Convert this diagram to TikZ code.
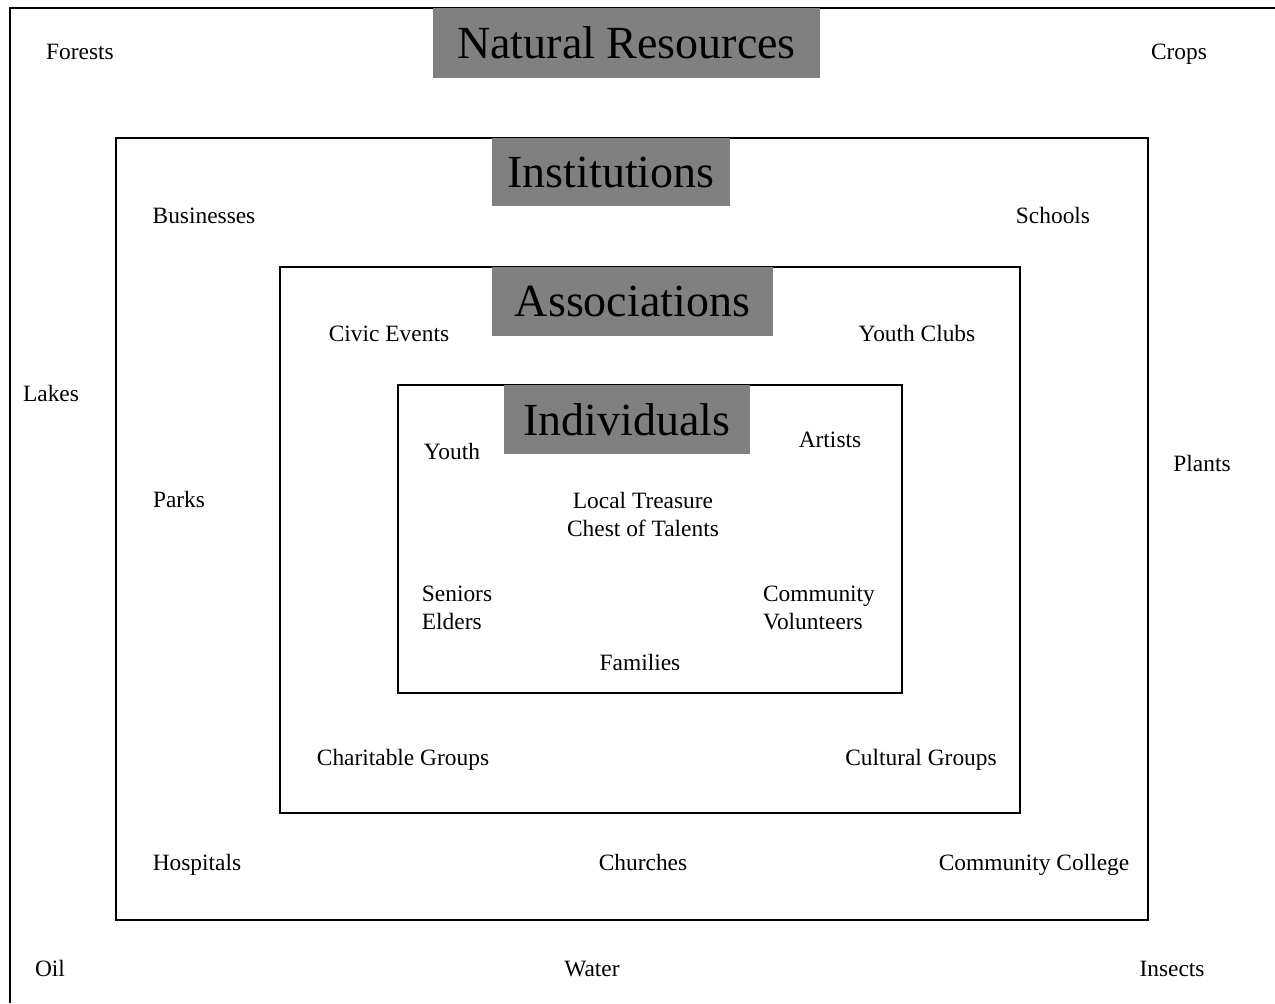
\documentclass[tikz,border=0pt]{standalone}
\usepackage{fontspec}
\setmainfont{Liberation Serif}
\definecolor{labgray}{HTML}{808080}
\begin{document}
\begin{tikzpicture}[x=0.5pt,y=-0.5pt,
  frame/.style={draw=black,line width=1pt},
  biglab/.style={fill=labgray,inner sep=0pt,font=\fontsize{23}{27}\selectfont},
  item/.style={inner sep=0pt,anchor=base,font=\fontsize{11.7}{14}\selectfont},
  itemL/.style={inner sep=0pt,align=left,font=\fontsize{11.7}{14}\selectfont},
  itemC/.style={inner sep=0pt,align=center,font=\fontsize{11.7}{14}\selectfont}]
\useasboundingbox (0,0) rectangle (1275,1003);
% outer frame (top and left edges only visible)
\draw[frame] (1275,8) -- (10,8) -- (10,1003);
% nested boxes
\draw[frame] (116,138) rectangle (1148,920);
\draw[frame] (280,267) rectangle (1020,813);
\draw[frame] (398,385) rectangle (902,693);
% gray title labels
\node[biglab,minimum width=387*0.5pt,minimum height=70*0.5pt] (nr) at (626.5,43) {Natural Resources};
\node[biglab,minimum width=238*0.5pt,minimum height=68*0.5pt] (inst) at (611,172) {Institutions};
\node[biglab,minimum width=281*0.5pt,minimum height=69*0.5pt] (assoc) at (632.5,301.5) {Associations};
\node[biglab,minimum width=246*0.5pt,minimum height=69*0.5pt] (indiv) at (627,419.5) {Individuals};
% natural resources
\node[item] (forests) at (80,59) {Forests};
\node[item] (crops) at (1179,59) {Crops};
\node[item] (lakes) at (51,401) {Lakes};
\node[item] (plants) at (1202,471) {Plants};
\node[item] (oil) at (50,976) {Oil};
\node[item] (water) at (592,976) {Water};
\node[item] (insects) at (1172,976) {Insects};
% institutions
\node[item] (bus) at (204,223) {Businesses};
\node[item] (schools) at (1053,223) {Schools};
\node[item] (parks) at (179,507) {Parks};
\node[item] (hosp) at (197,870) {Hospitals};
\node[item] (church) at (643,870) {Churches};
\node[item] (cc) at (1034,870) {Community College};
% associations
\node[item] (civic) at (389,341) {Civic Events};
\node[item] (yclubs) at (917,341) {Youth Clubs};
\node[item] (charit) at (403,765) {Charitable Groups};
\node[item] (cult) at (921,765) {Cultural Groups};
% individuals
\node[item] (youth) at (452,459) {Youth};
\node[item] (artists) at (830,447) {Artists};
\node[itemC] (ltc) at (643,514) {Local Treasure\\Chest of Talents};
\node[itemL] (seniors) at (457,608) {Seniors\\Elders};
\node[itemL] (volunteers) at (819,608) {Community\\Volunteers};
\node[item] (families) at (640,670) {Families};
\end{tikzpicture}
\end{document}
